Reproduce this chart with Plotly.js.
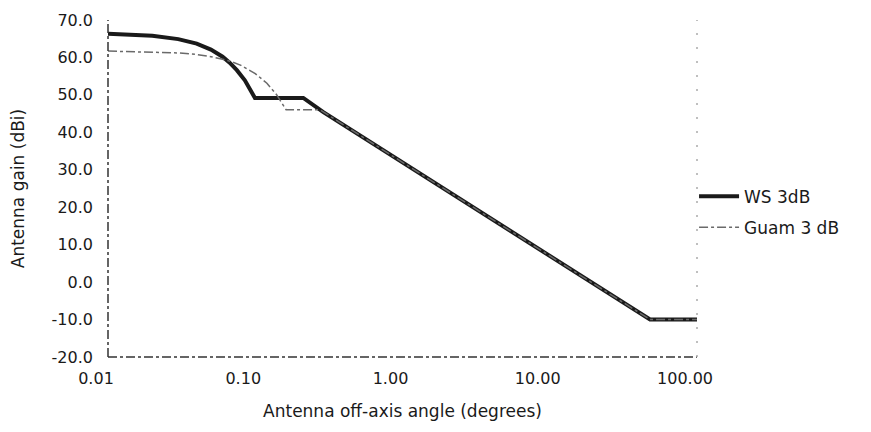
<!DOCTYPE html>
<html>
<head>
<meta charset="utf-8">
<script src="https://cdn.plot.ly/plotly-3.0.1.min.js"></script>
<style>html,body{margin:0;padding:0;background:#fff;}#chart{width:871px;height:432px;}</style>
</head>
<body>
<div id="chart"></div>
<script>
// Off-axis angle (degrees) and gain (dBi)
const wsAngle = [0.01, 0.015, 0.02, 0.03, 0.04, 0.05, 0.06, 0.067, 0.075, 0.085, 0.0995, 0.15, 0.212, 0.29, 0.5, 1, 2, 5, 10, 20, 48, 100];
const wsGain  = [66.3, 66.1, 65.8, 64.9, 63.7, 62.1, 60.2, 58.6, 56.6, 53.9, 49.2, 49.2, 49.2, 45.4, 39.5, 32.0, 24.5, 14.5, 7.0, -0.5, -10.0, -10.0];

const guamAngle = [0.01, 0.02, 0.03, 0.04, 0.05, 0.06, 0.07, 0.08, 0.1, 0.12, 0.14, 0.162, 0.2, 0.276, 0.5, 1, 2, 5, 10, 20, 48, 100];
const guamGain  = [61.7, 61.5, 61.2, 60.8, 60.2, 59.5, 58.8, 57.9, 55.7, 53.1, 50.0, 46.0, 46.0, 46.0, 39.5, 32.0, 24.5, 14.5, 7.0, -0.5, -10.0, -10.0];

const seriesNames = ["WS 3dB", "Guam 3 dB"];
const xTickVals = [0.01, 0.1, 1, 10, 100];
const xTickText = ["0.01", "0.10", "1.00", "10.00", "100.00"];
const yTickVals = [-20, -10, 0, 10, 20, 30, 40, 50, 60, 70];
const yTickText = ["-20.0", "-10.0", "0.0", "10.0", "20.0", "30.0", "40.0", "50.0", "60.0", "70.0"];

const FONT = "DejaVu Sans, Arial, sans-serif";

const traces = [
  {
    x: wsAngle, y: wsGain, name: seriesNames[0], type: "scatter", mode: "lines",
    line: {color: "#1a1a1a", width: 4},
    legendgroup: "a"
  },
  {
    x: guamAngle, y: guamGain, name: seriesNames[1], type: "scatter", mode: "lines",
    line: {color: "#6a6a6a", width: 1.5, dash: "dashdot"},
    legendgroup: "b"
  }
];

const layout = {
  width: 871, height: 432,
  margin: {l: 108, r: 174, t: 20, b: 75},
  paper_bgcolor: "#fff", plot_bgcolor: "#fff",
  font: {family: FONT, size: 16, color: "#1a1a1a"},
  showlegend: true,
  legend: {
    x: 0.995, xanchor: "left", y: 0.43, yanchor: "middle",
    font: {family: FONT, size: 17, color: "#1a1a1a"},
    bgcolor: "rgba(0,0,0,0)", tracegroupgap: 6, itemwidth: 40
  },
  xaxis: {
    type: "log", range: [-2, 2],
    tickvals: xTickVals, ticktext: xTickText,
    ticks: "", showgrid: false, zeroline: false, showline: false,
    tickfont: {family: FONT, size: 16, color: "#1a1a1a"},
    ticklabelstandoff: 10, ticklabelshift: -12,
    title: {text: "Antenna off-axis angle (degrees)", font: {family: FONT, size: 17, color: "#1a1a1a"}, standoff: 18}
  },
  yaxis: {
    range: [-20, 70], tickvals: yTickVals, ticktext: yTickText,
    ticks: "", showgrid: false, zeroline: false, showline: false,
    tickfont: {family: FONT, size: 16, color: "#1a1a1a"},
    ticklabelstandoff: 14,
    title: {text: "Antenna gain (dBi)", font: {family: FONT, size: 17, color: "#1a1a1a"}, standoff: 22}
  },
  shapes: [
    {type: "line", xref: "paper", yref: "paper", x0: 0, x1: 0, y0: 0, y1: 1, line: {color: "#333", width: 1.5, dash: "dashdot"}},
    {type: "line", xref: "paper", yref: "paper", x0: 0, x1: 1, y0: 0, y1: 0, line: {color: "#333", width: 1.5, dash: "dashdot"}},
    {type: "line", xref: "paper", yref: "paper", x0: 1, x1: 1, y0: 0, y1: 1, line: {color: "#aaa", width: 1.5, dash: "2px,12px"}}
  ]
};

Plotly.newPlot("chart", traces, layout, {displayModeBar: false, staticPlot: true});
</script>
</body>
</html>
